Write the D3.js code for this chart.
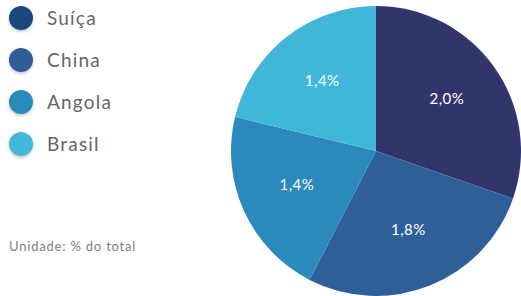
<!DOCTYPE html>
<html>
<head>
<meta charset="utf-8">
<script src="https://cdn.jsdelivr.net/npm/d3@7"></script>
<style>
  body { margin: 0; background: #fff; }
  svg { font-family: Lato, sans-serif; }
</style>
</head>
<body>
<div id="chart-container"></div>
<script>
// Data
var categories = ["Suíça", "China", "Angola", "Brasil"];
var values = [2.0, 1.8, 1.4, 1.4];
var labels = ["2,0%", "1,8%", "1,4%", "1,4%"];
var sliceColors = ["#31356b", "#2e5f99", "#2b8abb", "#40b7d8"];
var legendColors = ["#1b467e", "#2e5c97", "#2a8aba", "#40b9d9"];

var width = 521, height = 296;

var svg = d3.select("#chart-container")
    .append("svg")
    .attr("width", width)
    .attr("height", height);

// Shadow for legend dots
var defs = svg.append("defs");
var f = defs.append("filter").attr("id", "shadow")
    .attr("x", "-50%").attr("y", "-50%").attr("width", "200%").attr("height", "200%");
f.append("feDropShadow")
    .attr("dx", 0).attr("dy", 1.5).attr("stdDeviation", 1.5)
    .attr("flood-color", "#000").attr("flood-opacity", 0.25);

// Pie
var radius = 145;
var g = svg.append("g").attr("transform", "translate(376,151)");

var pie = d3.pie().sort(null).value(function (d) { return d; });
var arc = d3.arc().innerRadius(0).outerRadius(radius);
var labelArc = d3.arc().innerRadius(radius * 0.6).outerRadius(radius * 0.6);

var arcs = pie(values);

g.selectAll(".slice")
    .data(arcs)
    .enter().append("path")
    .attr("class", "slice")
    .attr("d", arc)
    .attr("fill", function (d, i) { return sliceColors[i]; });

g.selectAll(".lbl")
    .data(arcs)
    .enter().append("text")
    .attr("class", "lbl")
    .attr("transform", function (d) { return "translate(" + labelArc.centroid(d) + ")"; })
    .attr("text-anchor", "middle")
    .attr("dy", "0.2em")
    .attr("fill", "#fff")
    .attr("font-size", 15)
    .attr("letter-spacing", 0.5)
    .text(function (d, i) { return labels[i]; });

// Legend
var legend = svg.selectAll(".legend")
    .data(categories)
    .enter().append("g")
    .attr("class", "legend")
    .attr("transform", function (d, i) { return "translate(21," + (18 + i * 42) + ")"; });

legend.append("circle")
    .attr("r", 12)
    .attr("fill", function (d, i) { return legendColors[i]; })
    .attr("filter", "url(#shadow)");

legend.append("text")
    .attr("x", 26)
    .attr("dy", "0.35em")
    .attr("font-size", 19)
    .attr("letter-spacing", 1.2)
    .attr("fill", "#666")
    .text(function (d) { return d; });

// Unit note
svg.append("text")
    .attr("x", 9)
    .attr("y", 251)
    .attr("font-size", 13)
    .attr("letter-spacing", 0.8)
    .attr("fill", "#808080")
    .text("Unidade: % do total");
</script>
</body>
</html>
